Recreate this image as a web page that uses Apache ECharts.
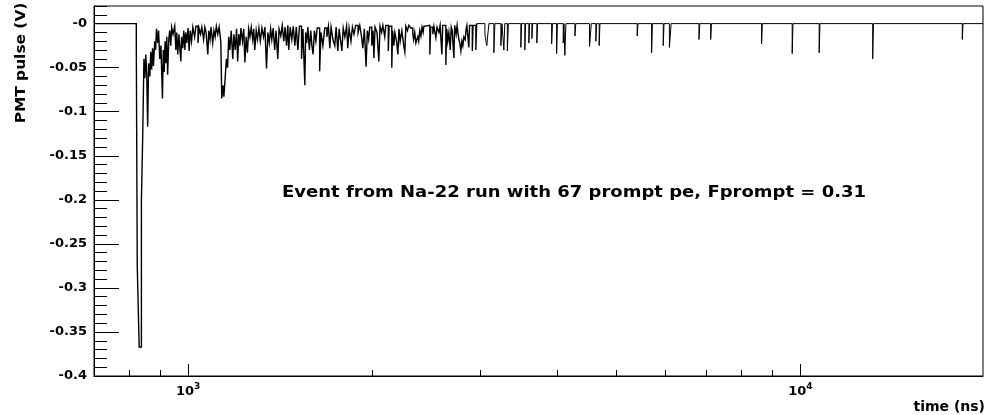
<!DOCTYPE html>
<html>
<head>
<meta charset="utf-8">
<script src="https://cdn.jsdelivr.net/npm/echarts@6/dist/echarts.min.js"></script>
<style>
  html, body { margin: 0; padding: 0; background: #fff; }
  #chart { width: 986px; height: 415px; }
</style>
</head>
<body>
<div id="chart"></div>
<script>
// PMT waveform, digitised samples: time (ns) and pulse height (V).
// Each value holds until the next sample (histogram-style steps).
const waveTimes = [
  702, 823, 826, 832, 839, 843, 847, 850, 853, 856, 859, 862, 866, 869, 872, 875, 878, 882, 885, 888,
  892, 895, 899, 903, 908, 911, 914, 917, 920, 923, 926, 930, 933, 937, 940, 945, 951, 955, 958, 962,
  966, 973, 976, 980, 984, 988, 991, 995, 1000, 1004, 1008, 1013, 1018, 1025, 1030, 1038, 1042, 1048, 1053, 1060,
  1065, 1070, 1077, 1081, 1086, 1090, 1097, 1102, 1107, 1112, 1118, 1124, 1131, 1135, 1140, 1144, 1150, 1155, 1160, 1165,
  1170, 1176, 1183, 1188, 1194, 1200, 1205, 1210, 1215, 1220, 1227, 1233, 1238, 1244, 1250, 1256, 1262, 1268, 1275, 1280,
  1285, 1292, 1298, 1305, 1312, 1320, 1328, 1335, 1343, 1350, 1357, 1364, 1370, 1377, 1385, 1392, 1401, 1408, 1417, 1425,
  1433, 1440, 1448, 1455, 1460, 1468, 1477, 1485, 1494, 1502, 1511, 1520, 1532, 1540, 1551, 1556, 1562, 1569, 1578, 1586,
  1593, 1600, 1608, 1617, 1625, 1640, 1648, 1660, 1672, 1685, 1695, 1704, 1712, 1724, 1736, 1745, 1756, 1765, 1775, 1783,
  1792, 1803, 1815, 1823, 1832, 1845, 1855, 1866, 1878, 1895, 1907, 1920, 1929, 1940, 1953, 1962, 1972, 1980, 1995, 2005,
  2011, 2020, 2035, 2049, 2058, 2070, 2080, 2095, 2103, 2123, 2130, 2151, 2158, 2168, 2176, 2190, 2201, 2210, 2220, 2234,
  2250, 2259, 2268, 2282, 2293, 2310, 2328, 2335, 2345, 2355, 2364, 2372, 2380, 2390, 2400, 2410, 2420, 2427, 2440, 2482,
  2490, 2510, 2520, 2539, 2550, 2568, 2580, 2597, 2605, 2636, 2645, 2655, 2666, 2680, 2690, 2700, 2717, 2725, 2740, 2750,
  2758, 2768, 2778, 2789, 2800, 2810, 2821, 2835, 2845, 2853, 2874, 2882, 2912, 2920, 2951, 2960, 3053, 3065, 3075, 3087,
  3100, 3158, 3170, 3242, 3255, 3279, 3290, 3322, 3335, 3495, 3505, 3548, 3558, 3602, 3612, 3643, 3653, 3712, 3722, 3924,
  3936, 3998, 4010, 4099, 4110, 4124, 4140, 4283, 4297, 4525, 4555, 4634, 4648, 4692, 4706, 5413, 5430, 5715, 5732, 5970,
  5988, 6110, 6150, 6829, 6850, 7136, 7158, 8641, 8667, 9696, 9725, 10731, 10763, 13124, 13163, 18380, 18435, 19870
];
const waveVolts = [
  0, -0.022, -0.275, -0.367, -0.200, -0.130, -0.040, -0.062, -0.035, -0.058, -0.117, -0.045, -0.060, -0.032, -0.052, -0.028, -0.048, -0.020, -0.030, -0.006,
  -0.022, -0.008, -0.040, -0.025, -0.085, -0.030, -0.055, -0.020, -0.045, -0.015, -0.058, -0.018, -0.008, -0.025, -0.004, -0.012, -0.003, -0.030, -0.010, -0.035,
  -0.012, -0.043, -0.015, -0.028, -0.008, -0.030, -0.010, -0.022, -0.005, -0.031, -0.008, -0.020, -0.004, -0.015, -0.003, -0.022, -0.005, -0.012, -0.004, -0.018,
  -0.004, -0.010, -0.035, -0.008, -0.018, -0.004, -0.022, -0.008, -0.015, -0.003, -0.012, -0.004, -0.021, -0.085, -0.070, -0.083, -0.060, -0.040, -0.050, -0.015,
  -0.030, -0.008, -0.040, -0.012, -0.030, -0.006, -0.043, -0.012, -0.025, -0.005, -0.020, -0.006, -0.044, -0.015, -0.033, -0.006, -0.015, -0.004, -0.018, -0.006,
  -0.030, -0.008, -0.018, -0.005, -0.020, -0.005, -0.015, -0.004, -0.051, -0.010, -0.022, -0.006, -0.018, -0.005, -0.030, -0.008, -0.040, -0.006, -0.014, -0.002,
  -0.020, -0.004, -0.025, -0.002, -0.030, -0.004, -0.018, -0.003, -0.025, -0.004, -0.030, -0.003, -0.040, -0.006, -0.070, -0.010, -0.022, -0.004, -0.030, -0.008,
  -0.025, -0.035, -0.008, -0.020, -0.005, -0.054, -0.010, -0.025, -0.005, -0.015, -0.003, -0.028, -0.004, -0.018, -0.025, -0.004, -0.031, -0.006, -0.020, -0.031,
  -0.005, -0.015, -0.003, -0.028, -0.005, -0.020, -0.004, -0.012, -0.002, -0.010, -0.002, -0.015, -0.028, -0.006, -0.049, -0.008, -0.018, -0.004, -0.025, -0.008,
  -0.039, -0.004, -0.010, -0.043, -0.003, -0.010, -0.002, -0.015, -0.002, -0.031, -0.003, -0.050, -0.008, -0.025, -0.010, -0.020, -0.035, -0.006, -0.020, -0.008,
  -0.025, -0.032, -0.003, -0.008, -0.002, -0.005, -0.012, -0.018, -0.010, -0.022, -0.024, -0.015, -0.020, -0.008, -0.014, -0.004, -0.010, -0.003, -0.002, -0.035,
  -0.004, -0.012, -0.003, -0.016, -0.004, -0.010, -0.002, -0.035, -0.002, -0.047, -0.006, -0.020, -0.010, -0.030, -0.004, -0.008, -0.039, -0.002, -0.012, -0.002,
  -0.010, -0.018, -0.022, -0.031, -0.020, -0.025, -0.015, -0.018, -0.006, -0.002, -0.027, -0.002, -0.031, -0.002, -0.030, 0, -0.012, -0.020, -0.025, -0.012,
  0, -0.033, 0, -0.025, 0, -0.030, 0, -0.031, 0, -0.027, 0, -0.030, 0, -0.022, 0, -0.017, 0, -0.022, 0, -0.023,
  0, -0.034, 0, -0.022, 0, -0.036, 0, -0.014, 0, -0.026, 0, -0.020, 0, -0.025, 0, -0.014, 0, -0.033, 0, -0.025,
  0, -0.027, 0, -0.018, 0, -0.018, 0, -0.023, 0, -0.034, 0, -0.033, 0, -0.040, 0, -0.018, 0, 0
];

// Axis ranges and ticks
const X_MIN = 702, X_MAX = 19870;
const Y_MIN = -0.4, Y_MAX = 0.02;
const xMajorTicks = [1000, 10000];
const xMajorExponents = ['3', '4'];
const xMinorTicks = [800, 900, 2000, 3000, 4000, 5000, 6000, 7000, 8000, 9000];
const yTickValues = [-0.4, -0.35, -0.3, -0.25, -0.2, -0.15, -0.1, -0.05, 0];
const yTickLabels = ['-0.4', '-0.35', '-0.3', '-0.25', '-0.2', '-0.15', '-0.1', '-0.05', '-0'];

const xTitle = 'time (ns)';
const yTitle = 'PMT pulse (V)';
const note = 'Event from Na-22 run with 67 prompt pe, Fprompt = 0.31';

// the crowded early part of the trace is stroked a little heavier
const DENSE_END = 3000;

const FONT = '"DejaVu Sans", "Liberation Sans", sans-serif';

const wave = waveTimes.map((t, i) => [t, waveVolts[i]]);
const split = wave.findIndex(p => p[0] > DENSE_END);
const denseWave = wave.slice(0, split);
const sparseWave = wave.slice(split - 1);

const chart = echarts.init(document.getElementById('chart'), null, { renderer: 'canvas' });

const traceSeries = (data, width) => ({
  type: 'line', xAxisIndex: 0, yAxisIndex: 0, data: data,
  step: 'end', showSymbol: false, symbol: 'none', silent: true, clip: true,
  lineStyle: { color: '#000', width: width, join: 'miter' }, z: 3
});

chart.setOption({
  animation: false,
  backgroundColor: '#ffffff',
  grid: {
    left: 94, right: 3, top: 6, bottom: 39,
    show: true, borderColor: '#000', borderWidth: 1, backgroundColor: 'transparent'
  },
  xAxis: {
    type: 'log', logBase: 10, min: X_MIN, max: X_MAX,
    axisLine: { onZero: false, lineStyle: { color: '#000', width: 1 } },
    axisTick: { inside: true, length: 12, lineStyle: { color: '#000', width: 1 } },
    splitLine: { show: false },
    axisLabel: {
      showMinLabel: false, showMaxLabel: false, margin: 6,
      formatter: function (v) {
        const i = xMajorTicks.indexOf(Math.round(v));
        return i < 0 ? '' : '{b|10}{e|' + xMajorExponents[i] + '}';
      },
      rich: {
        b: { fontFamily: FONT, fontWeight: 'bold', fontSize: 13, color: '#000', lineHeight: 19 },
        e: { fontFamily: FONT, fontWeight: 'bold', fontSize: 9, color: '#000', lineHeight: 8, verticalAlign: 'top' }
      }
    }
  },
  yAxis: [
    {
      type: 'value', min: Y_MIN, max: Y_MAX, interval: 0.05,
      axisLine: { show: true, onZero: false, lineStyle: { color: '#000', width: 1 } },
      axisTick: { inside: true, length: 25, customValues: yTickValues, lineStyle: { color: '#000', width: 1 } },
      splitLine: { show: false },
      axisLabel: {
        customValues: yTickValues, margin: 7,
        fontFamily: FONT, fontWeight: 'bold', fontSize: 13, color: '#000',
        formatter: function (v) {
          for (let i = 0; i < yTickValues.length; i++) {
            if (Math.abs(yTickValues[i] - v) < 1e-9) return yTickLabels[i];
          }
          return '';
        }
      }
    },
    {
      type: 'value', min: Y_MIN, max: Y_MAX, interval: 0.01, position: 'left',
      axisLine: { show: false, onZero: false },
      axisTick: { inside: true, length: 13, lineStyle: { color: '#000', width: 1 } },
      axisLabel: { show: false },
      splitLine: { show: false }
    }
  ],
  series: [
    traceSeries(denseWave, 1.4),
    traceSeries(sparseWave, 1),
    {
      // minor decade ticks on the time axis
      type: 'custom', xAxisIndex: 0, yAxisIndex: 0, silent: true, clip: false,
      data: xMinorTicks.map(t => [t, Y_MIN]),
      renderItem: function (params, api) {
        const p = api.coord([api.value(0), api.value(1)]);
        const x = Math.round(p[0]) + 0.5;
        return {
          type: 'line',
          shape: { x1: x, y1: p[1], x2: x, y2: p[1] - 6 },
          style: { stroke: '#000', lineWidth: 1 }
        };
      }
    }
  ],
  graphic: [
    {
      type: 'text', x: 21, y: 63, rotation: Math.PI / 2, scaleX: 1.1,
      style: { text: yTitle, font: 'bold 14px ' + FONT, fill: '#000', align: 'center', verticalAlign: 'middle' }
    },
    {
      type: 'text', x: 985, y: 407,
      style: { text: xTitle, font: 'bold 14px ' + FONT, fill: '#000', align: 'right', verticalAlign: 'middle' }
    },
    {
      type: 'text', x: 282, y: 193, scaleX: 1.2,
      style: { text: note, font: 'bold 15px ' + FONT, fill: '#000', align: 'left', verticalAlign: 'middle' }
    }
  ]
});
</script>
</body>
</html>
